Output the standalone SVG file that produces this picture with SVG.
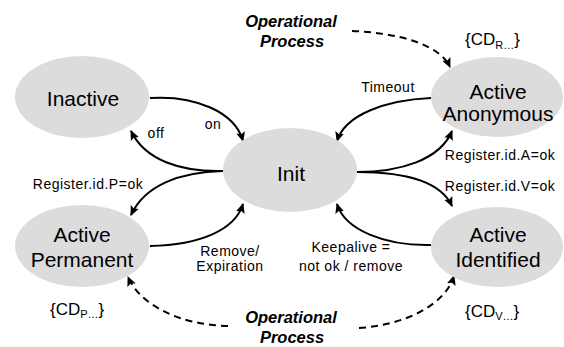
<svg xmlns="http://www.w3.org/2000/svg" width="564" height="347" viewBox="0 0 564 347">
<style>
.node ellipse{fill:#dcdcdc;stroke:none}
.nt{font-family:"Liberation Sans",Arial,sans-serif;font-size:21px;fill:#000;text-anchor:middle}
.lbl{font-family:"Liberation Sans",Arial,sans-serif;font-size:14px;letter-spacing:0.5px;fill:#000;text-anchor:middle}
.op{font-family:"Liberation Sans",Arial,sans-serif;font-size:16.5px;font-weight:bold;font-style:italic;fill:#000;text-anchor:middle}
.cd{font-family:"Liberation Sans",Arial,sans-serif;font-size:17px;fill:#000}
.edge{fill:none;stroke:#000;stroke-width:2;marker-end:url(#ah)}
.dash{stroke-dasharray:7 5}
</style>
<defs>
<marker id="ah" viewBox="0 0 10 10" refX="9" refY="5" markerWidth="10" markerHeight="10" markerUnits="userSpaceOnUse" orient="auto">
<path d="M0,0.5 L10,5 L0,9.5 L2,5 Z" fill="#000"/>
</marker>
</defs>
<rect width="564" height="347" fill="#fff"/>
<g id="connectors">
<path class="edge" d="M150,98 C195,95 235,112 243,141"/>
<path class="edge" d="M223,171 C180,172 145,160 131,131"/>
<path class="edge" d="M223,171 C180,172 145,185 131,215"/>
<path class="edge" d="M150,246 C200,245 235,230 243,204"/>
<path class="edge" d="M431,98 C385,100 345,115 337,141"/>
<path class="edge" d="M357,172 C400,172 440,160 452,131"/>
<path class="edge" d="M357,172 C400,172 440,180 452,206"/>
<path class="edge" d="M431,245 C385,246 345,230 337,204"/>
<path class="edge dash" d="M352,31 C400,33 440,45 450,67"/>
<path class="edge dash" d="M228,326 C180,325 140,305 128,277"/>
<path class="edge dash" d="M359,328 C405,325 445,305 454,276"/>
<text class="lbl" x="213" y="129">on</text>
<text class="lbl" x="156" y="138">off</text>
<text class="lbl" x="388" y="92">Timeout</text>
<text class="lbl" x="500" y="160">Register.id.A=ok</text>
<text class="lbl" x="500" y="191">Register.id.V=ok</text>
<text class="lbl" x="88" y="189">Register.id.P=ok</text>
<text class="lbl" x="230" y="256">Remove/</text>
<text class="lbl" x="230" y="271">Expiration</text>
<text class="lbl" x="351" y="252">Keepalive =</text>
<text class="lbl" x="351" y="271">not ok / remove</text>
</g>
<g id="op-top"><text class="op" x="291" y="27">Operational</text><text class="op" x="292" y="47">Process</text></g>
<g id="op-bottom"><text class="op" x="291" y="323">Operational</text><text class="op" x="292" y="343">Process</text></g>
<g id="inactive" class="node"><ellipse cx="82" cy="97" rx="67" ry="41"/><text class="nt" x="83" y="106">Inactive</text></g>
<g id="init" class="node"><ellipse cx="290" cy="170" rx="67" ry="42"/><text class="nt" x="291" y="181">Init</text></g>
<g id="active-anonymous" class="node"><ellipse cx="497" cy="97" rx="66" ry="40"/><text class="nt" x="498" y="99">Active</text><text class="nt" x="498" y="121">Anonymous</text></g>
<g id="active-permanent" class="node"><ellipse cx="82" cy="246" rx="67" ry="41"/><text class="nt" x="82" y="242">Active</text><text class="nt" x="82" y="267">Permanent</text></g>
<g id="active-identified" class="node"><ellipse cx="497" cy="247" rx="66" ry="40"/><text class="nt" x="498" y="242">Active</text><text class="nt" x="498" y="267">Identified</text></g>
<g id="cd-r"><text class="cd" x="465" y="45">{CD<tspan font-size="11" dy="4">R…</tspan><tspan dy="-4">}</tspan></text></g>
<g id="cd-p"><text class="cd" x="50" y="315">{CD<tspan font-size="11" dy="3">P…</tspan><tspan dy="-3">}</tspan></text></g>
<g id="cd-v"><text class="cd" x="465" y="317">{CD<tspan font-size="11" dy="3">V…</tspan><tspan dy="-3">}</tspan></text></g>
</svg>
